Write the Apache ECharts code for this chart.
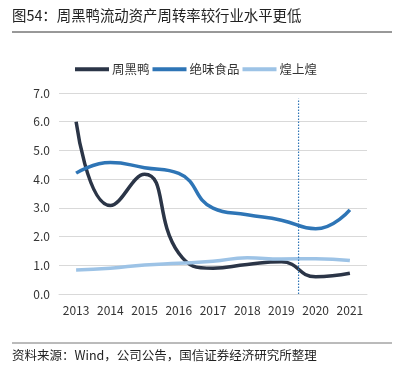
<!DOCTYPE html>
<html><head><meta charset="utf-8">
<script src="https://cdn.jsdelivr.net/npm/echarts@6/dist/echarts.min.js"></script>
<style>html,body{margin:0;padding:0;background:#fff;}#c{width:398px;height:375px;}</style>
</head><body><div id="c"></div>
<script>
const years = ['2013','2014','2015','2016','2017','2018','2019','2020','2021'];
const zhouheiya = [6.0, 3.08, 4.17, 1.42, 0.9, 1.03, 1.12, 0.6, 0.72];
const juewei = [4.21, 4.58, 4.4, 4.2, 2.99, 2.76, 2.57, 2.27, 2.93];
const huangshanghuang = [0.84, 0.9, 1.01, 1.07, 1.14, 1.26, 1.22, 1.23, 1.17];
const dividerLine = [[7, 0], [7, 6.8]];
const font = '"Noto Sans CJK SC", "Noto Sans", sans-serif';
const chart = echarts.init(document.getElementById('c'));
chart.setOption({
  animation: false,
  textStyle: {fontFamily: font},
  graphic: [
    {type: 'text', left: 12, top: 8, style: {text: '图54：周黑鸭流动资产周转率较行业水平更低', font: '14.4px ' + font, fill: '#222'}},
    {type: 'line', shape: {x1: 12, y1: 32, x2: 392, y2: 32}, style: {stroke: '#333', lineWidth: 1}},
    {type: 'line', shape: {x1: 12, y1: 343, x2: 392, y2: 343}, style: {stroke: '#777', lineWidth: 1}},
    {type: 'text', left: 12, top: 349, style: {text: '资料来源：Wind，公司公告，国信证券经济研究所整理', font: '12.5px ' + font, fill: '#222'}}
  ],
  legend: {
    top: 58, left: 70, itemWidth: 34, itemHeight: 4, itemGap: 3,
    icon: 'rect',
    textStyle: {fontSize: 12.5, color: '#333', fontFamily: font, padding: [0, 0, 0, -2]},
    data: ['周黑鸭', '绝味食品', '煌上煌']
  },
  grid: {left: 59, right: 31, top: 93, bottom: 81},
  xAxis: [{
    type: 'category', data: years, boundaryGap: true,
    axisLine: {lineStyle: {color: '#d9d9d9'}}, axisTick: {show: false},
    axisLabel: {color: '#333', fontSize: 12, margin: 10, interval: 0, fontFamily: font}
  }, {
    type: 'value', min: 0, max: 9, show: false
  }],
  yAxis: {
    type: 'value', min: 0, max: 7, interval: 1,
    axisLabel: {color: '#333', fontSize: 12, margin: 9, formatter: v => v.toFixed(1), fontFamily: font},
    splitLine: {lineStyle: {color: '#d9d9d9'}},
    axisLine: {show: false}, axisTick: {show: false}
  },
  series: [
    {name: '周黑鸭', type: 'line', smooth: true, data: zhouheiya, showSymbol: false, color: '#2b3547', lineStyle: {width: 3.5}},
    {name: '绝味食品', type: 'line', smooth: true, data: juewei, showSymbol: false, color: '#2e75b6', lineStyle: {width: 3.5}},
    {name: '煌上煌', type: 'line', smooth: true, data: huangshanghuang, showSymbol: false, color: '#9dc3e6', lineStyle: {width: 3.5}},
    {name: 'divider', type: 'line', xAxisIndex: 1, data: dividerLine, showSymbol: false, color: '#2e75b6', lineStyle: {width: 1.2, type: [1.5, 1.5]}, silent: true}
  ]
});
</script></body></html>
